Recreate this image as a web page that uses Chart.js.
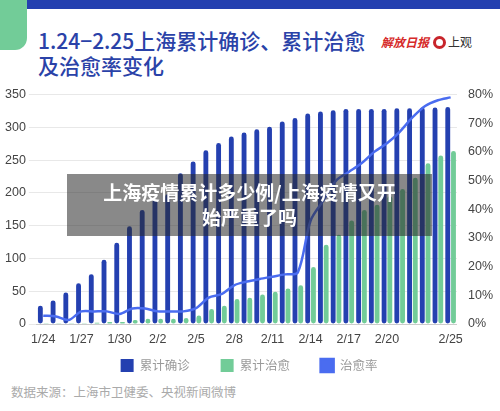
<!DOCTYPE html>
<html><head><meta charset="utf-8">
<script src="https://cdn.jsdelivr.net/npm/chart.js@4"></script>
<style>
body{margin:0;width:500px;height:411px;overflow:hidden;background:#fff;font-family:"Noto Sans CJK SC","Noto Sans",sans-serif;position:relative}
#bar{position:absolute;left:0;top:0;width:500px;height:9px;background:#2440b0}
#tab{position:absolute;left:0;top:0;width:27px;height:50px;background:#72cc98;border-bottom-right-radius:12px}
#title{position:absolute;left:38px;top:28px;font-size:21px;line-height:25px;color:#2a42a8;font-weight:500}
#logo1{position:absolute;left:381px;top:33px;color:#d62a2a;font-style:italic;font-weight:bold;font-size:12px}
#logo2{position:absolute;left:433px;top:33px;color:#333;font-size:12px;white-space:nowrap}
#logo2 span{display:inline-block;width:7px;height:7px;border:3px solid #c8252b;border-radius:50%;vertical-align:-2px;margin-right:2px}
#wrap{position:absolute;left:0;top:84px;width:500px;height:298px}
#src{position:absolute;left:11px;top:382px;font-size:12.5px;color:#aaa}
#ov{position:absolute;left:67px;top:174px;width:365px;height:62px;background:rgba(40,40,40,0.55);color:#fff;font-weight:bold;font-size:19px;text-align:center;line-height:25px;padding-top:5px;box-sizing:border-box}
</style></head><body>
<div id="bar"></div><div id="tab"></div>
<div id="title">1.24−2.25上海累计确诊、累计治愈<br>及治愈率变化</div>
<div id="logo1">解放日报</div>
<div id="logo2"><span></span>上观</div>
<div id="wrap"><canvas id="c"></canvas></div>
<div id="src">数据来源：上海市卫健委、央视新闻微博</div>
<div id="ov">上海疫情累计多少例/上海疫情又开<br>始严重了吗</div>
<script>
const labels=["1/24","1/25","1/26","1/27","1/28","1/29","1/30","1/31","2/1","2/2","2/3","2/4","2/5","2/6","2/7","2/8","2/9","2/10","2/11","2/12","2/13","2/14","2/15","2/16","2/17","2/18","2/19","2/20","2/21","2/22","2/23","2/24","2/25"];
const confirmed=[28,36,48,62,76,98,124,149,174,190,198,230,248,265,276,286,292,297,301,309,314,321,324,326,328,328,328,328,329,329,330,330,331];
const cured=[1,1,1,1,2,3,3,6,8,8,8,9,13,23,28,38,40,45,49,54,59,87,121,136,158,174,182,195,206,223,245,257,264];
const rate=[2.9,2.6,1.4,4.4,4.4,4.4,3.5,5.4,5.4,4.4,4.4,4.4,5.5,9.2,10.4,13.5,14.8,15.7,16.5,17.3,18,36,43,50,53,56,60,63,67,72,76,78,79];
const order={'累计确诊':0,'累计治愈':1,'治愈率':2};
new Chart(document.getElementById('c'),{
data:{labels,datasets:[
{type:'line',label:'治愈率',data:rate,yAxisID:'y1',borderColor:'#4a6cf0',backgroundColor:'#4a6cf0',borderWidth:2.5,pointRadius:0,tension:0.3,order:0},
{type:'bar',label:'累计确诊',data:confirmed,backgroundColor:'#2440b0',borderRadius:3,borderSkipped:false,barPercentage:0.85,categoryPercentage:0.9,order:1},
{type:'bar',label:'累计治愈',data:cured,backgroundColor:'#72cc98',borderRadius:3,borderSkipped:false,barPercentage:0.85,categoryPercentage:0.9,order:1}
]},
options:{responsive:true,maintainAspectRatio:false,animation:false,
layout:{padding:{left:2,right:4,top:4}},
plugins:{tooltip:{enabled:false},legend:{position:'bottom',labels:{boxWidth:13,boxHeight:13,padding:12,color:'#999',font:{size:12.5,family:'"Noto Sans CJK SC"'},
 generateLabels:function(chart){const l=Chart.defaults.plugins.legend.labels.generateLabels(chart);l.sort((a,b)=>order[a.text]-order[b.text]);l.forEach((it,i)=>{if(i<2)it.text=it.text+'\u2003\u2002';});return l;}}}},
scales:{
x:{grid:{display:false},border:{color:'#ccc'},ticks:{color:'#444',font:{size:12.5},padding:0,maxRotation:0,autoSkip:false,callback:function(v,i){return (i%3==0&&i<=27)||i==32?labels[i]:'';}}},
y:{min:0,max:350,ticks:{stepSize:50,color:'#444',font:{size:12.5}},grid:{color:'#e8e8e8'},border:{display:false}},
y1:{position:'right',min:0,max:80,ticks:{stepSize:10,color:'#444',font:{size:12.5},callback:v=>v+'%'},grid:{display:false},border:{display:false}}
}}});
</script></body></html>
